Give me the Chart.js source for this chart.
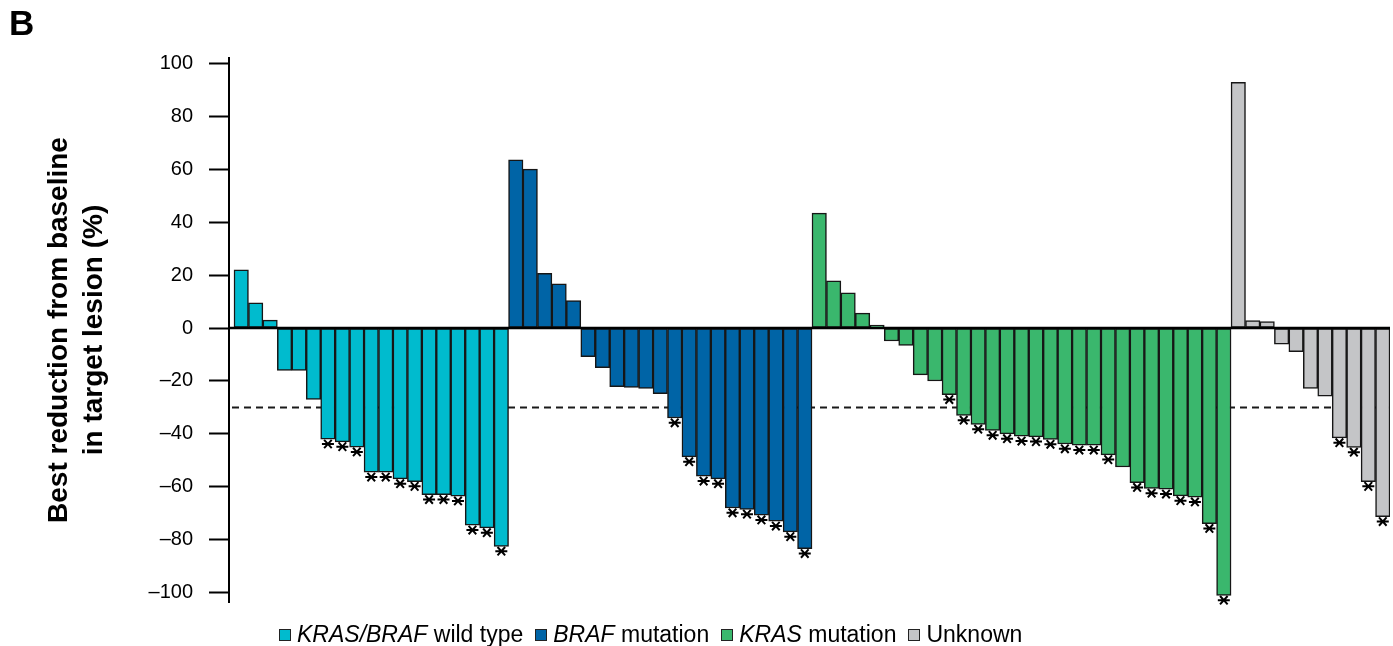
<!DOCTYPE html>
<html>
<head>
<meta charset="utf-8">
<script src="https://cdn.jsdelivr.net/npm/chart.js@4"></script>
<style>
  html, body { margin: 0; padding: 0; background: #fff; }
  #wrap { position: relative; width: 1393px; height: 646px; font-family: "Liberation Sans", Arial, sans-serif; color: #000; }
  #panel { position: absolute; left: 9px; top: 3px; font-weight: bold; font-size: 35px; }
  #legend { position: absolute; left: 279px; top: 621px; display: flex; align-items: center; font-size: 23px; white-space: nowrap; }
  .item { display: flex; align-items: center; margin-right: 12px; }
  .sw { width: 10px; height: 10px; border: 1.5px solid #222; margin-right: 6px; }
  canvas { position: absolute; left: 0; top: 0; }
</style>
</head>
<body>
<div id="wrap">
  <canvas id="c" width="1393" height="646"></canvas>
  <div id="panel">B</div>
  <div id="legend"></div>
</div>
<script>
// Best change from baseline in target lesion (%) per patient, grouped by mutation status
const wildType = [22, 9.5, 3, -16, -16, -27, -42, -43, -45, -54.5, -54.5, -57, -58, -63, -63, -63.5, -74.5, -75.5, -82.5];
const brafMut  = [63.5, 60, 20.7, 16.7, 10.4, -10.8, -15, -22.2, -22.4, -22.8, -24.8, -34, -48.7, -56, -57, -68, -68.5, -70.7, -73, -77, -83.4];
const krasMut  = [43.4, 17.8, 13.3, 5.6, 1.1, -4.9, -6.6, -17.7, -20, -25.2, -33, -36.4, -38.7, -40, -40.9, -41.1, -42.1, -43.8, -44.3, -44.3, -47.9, -52.5, -58.4, -60.6, -60.9, -63.4, -63.9, -73.9, -101];
const unknown  = [92.8, 2.8, 2.4, -6.1, -8.9, -22.8, -25.7, -41.5, -45.1, -58, -71.3];

// 1 = patient marked with an asterisk under the bar
const wildTypeStar = [0,0,0,0,0,0,1,1,1,1,1,1,1,1,1,1,1,1,1];
const brafStar     = [0,0,0,0,0,0,0,0,0,0,0,1,1,1,1,1,1,1,1,1,1];
const krasStar     = [0,0,0,0,0,0,0,0,0,1,1,1,1,1,1,1,1,1,1,1,1,0,1,1,1,1,1,1,1];
const unknownStar  = [0,0,0,0,0,0,0,1,1,1,1];

const yTicks = [100, 80, 60, 40, 20, 0, -20, -40, -60, -80, -100];
const responseCut = -30;

const groups = [
  { values: wildType, stars: wildTypeStar, color: '#00BBCE', name: ['KRAS/BRAF', ' wild type'] },
  { values: brafMut,  stars: brafStar,     color: '#0064A6', name: ['BRAF', ' mutation'] },
  { values: krasMut,  stars: krasStar,     color: '#3AB76D', name: ['KRAS', ' mutation'] },
  { values: unknown,  stars: unknownStar,  color: '#C4C5C7', name: ['', 'Unknown'] }
];

const total = groups.reduce((n, g) => n + g.values.length, 0);
const labels = Array.from({ length: total }, (_, i) => i + 1);
let offset = 0;
const datasets = groups.map(g => {
  const data = new Array(total).fill(null);
  g.values.forEach((v, k) => { data[offset + k] = v; });
  g.offset = offset;
  offset += g.values.length;
  return {
    label: g.name.join(''),
    data,
    backgroundColor: g.color,
    borderColor: '#161616',
    borderWidth: 1.5,
    borderSkipped: false,
    barPercentage: 1,
    categoryPercentage: 1,
    grouped: false
  };
});

const refLines = {
  id: 'refLines',
  beforeDatasetsDraw(chart) {
    const { ctx, chartArea, scales } = chart;
    const y = Math.round(scales.y.getPixelForValue(responseCut)) + 0.5;
    ctx.save();
    ctx.strokeStyle = '#1a1a1a';
    ctx.lineWidth = 2;
    ctx.setLineDash([7, 5]);
    ctx.beginPath();
    ctx.moveTo(chartArea.left + 3, y);
    ctx.lineTo(chartArea.right, y);
    ctx.stroke();
    ctx.restore();
  },
  afterDatasetsDraw(chart) {
    const { ctx, chartArea, scales } = chart;
    const y0 = scales.y.getPixelForValue(0);
    ctx.save();
    ctx.strokeStyle = '#000';
    ctx.lineWidth = 2.6;
    ctx.beginPath();
    ctx.moveTo(chartArea.left, y0);
    ctx.lineTo(chartArea.right, y0);
    ctx.stroke();

    // asterisks under marked bars
    ctx.strokeStyle = '#000';
    ctx.lineWidth = 2;
    groups.forEach((g, di) => {
      const meta = chart.getDatasetMeta(di);
      g.stars.forEach((s, k) => {
        if (!s) return;
        const bar = meta.data[g.offset + k];
        const cx = bar.x, cy = bar.y + 4.8;
        ctx.beginPath();
        ctx.moveTo(cx - 6, cy); ctx.lineTo(cx + 6, cy);
        ctx.moveTo(cx - 3.8, cy - 4.2); ctx.lineTo(cx + 3.8, cy + 4.2);
        ctx.moveTo(cx - 3.8, cy + 4.2); ctx.lineTo(cx + 3.8, cy - 4.2);
        ctx.stroke();
      });
    });
    ctx.restore();
  }
};

new Chart(document.getElementById('c'), {
  type: 'bar',
  data: { labels, datasets },
  plugins: [refLines],
  options: {
    responsive: false,
    animation: false,
    layout: { padding: { top: 58, bottom: 44, right: 3, left: 0 } },
    plugins: { legend: { display: false }, tooltip: { enabled: false } },
    scales: {
      x: { type: 'linear', display: false, offset: false, min: 0.154, max: total + 0.5 },
      y: {
        min: -103.5,
        max: 102,
        afterBuildTicks: s => { s.ticks = yTicks.map(v => ({ value: v })); },
        afterFit: s => { s.width = 229; },
        border: { display: true, color: '#000', width: 2 },
        grid: { drawOnChartArea: false, drawTicks: true, tickLength: 20, tickColor: '#000', tickWidth: 2 },
        ticks: {
          padding: 16,
          color: '#000',
          font: { family: '"Liberation Sans", Arial, sans-serif', size: 20 },
          callback: v => v < 0 ? '\u2013' + Math.abs(v) : String(v)
        },
        title: {
          display: true,
          text: ['Best reduction from baseline', 'in target lesion (%)'],
          color: '#000',
          font: { family: '"Liberation Sans", Arial, sans-serif', size: 28, weight: 'bold', lineHeight: 1.25 },
          padding: { top: 42, bottom: 0 }
        }
      }
    }
  }
});

// legend with italic gene names
const legend = document.getElementById('legend');
groups.forEach(g => {
  const item = document.createElement('div');
  item.className = 'item';
  const sw = document.createElement('span');
  sw.className = 'sw';
  sw.style.background = g.color;
  item.appendChild(sw);
  const txt = document.createElement('span');
  if (g.name[0]) {
    const it = document.createElement('i');
    it.textContent = g.name[0];
    txt.appendChild(it);
  }
  txt.appendChild(document.createTextNode(g.name[1]));
  item.appendChild(txt);
  legend.appendChild(item);
});
</script>
</body>
</html>
